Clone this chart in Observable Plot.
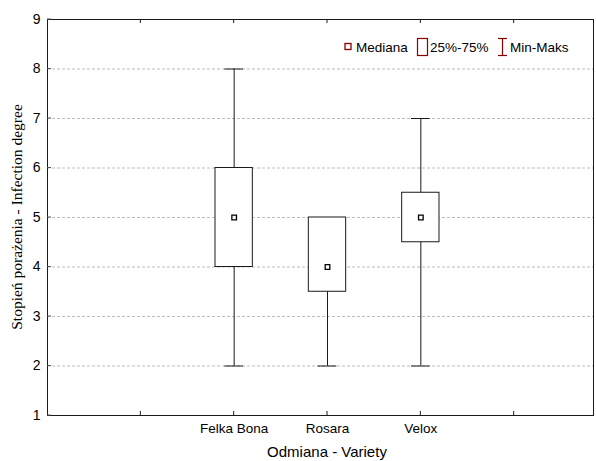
<!DOCTYPE html>
<html>
<head>
<meta charset="utf-8">
<script src="https://cdn.jsdelivr.net/npm/d3@7"></script>
<script src="https://cdn.jsdelivr.net/npm/@observablehq/plot@0.6"></script>
<style>
  html, body { margin: 0; padding: 0; background: #fff; }
  svg { display: block; }
</style>
</head>
<body>
<div id="chart"></div>
<script>
const varieties = ["Felka Bona", "Rosara", "Velox"];
const positions = [2, 3, 4];
const minValues = [2, 2, 2];
const q1Values = [4, 3.5, 4.5];
const medianValues = [5, 4, 5];
const q3Values = [6, 5, 5.5];
const maxValues = [8, 5, 7];
const yTicks = [1, 2, 3, 4, 5, 6, 7, 8, 9];
const gridTicks = [2, 3, 4, 5, 6, 7, 8];
const xTicks = [1, 2, 3, 4, 5];
const xLabel = "Odmiana - Variety";
const yLabel = "Stopień porażenia - Infection degree";
const legendLabels = ["Mediana", "25%-75%", "Min-Maks"];

const data = varieties.map((v, i) => ({
  name: v, pos: positions[i], min: minValues[i], q1: q1Values[i],
  med: medianValues[i], q3: q3Values[i], max: maxValues[i]
}));

const sans = "'Liberation Sans', Arial, sans-serif";
const serif = "'Liberation Serif', 'Times New Roman', serif";
const ink = "#1a1a1a";
const legendColor = "#8b0000";

const chart = Plot.plot({
  width: 596,
  height: 461,
  marginLeft: 47,
  marginRight: 3,
  marginTop: 19,
  marginBottom: 46,
  style: { fontFamily: sans, fontSize: "13.5px", color: "#000", background: "#fff" },
  x: { domain: [0, 5.85] },
  y: { domain: [1, 9] },
  marks: [
    Plot.ruleY(gridTicks, { stroke: "#bdbdbd", strokeDasharray: "3,2" }),
    Plot.ruleX(data, { x: "pos", y1: "min", y2: "max", stroke: ink }),
    Plot.ruleY(data, { y: "max", x1: d => d.pos - 0.1, x2: d => d.pos + 0.1, stroke: ink }),
    Plot.ruleY(data, { y: "min", x1: d => d.pos - 0.1, x2: d => d.pos + 0.1, stroke: ink }),
    Plot.rect(data, { x1: d => d.pos - 0.2, x2: d => d.pos + 0.2, y1: "q1", y2: "q3", fill: "white", stroke: ink }),
    Plot.dot(data, { x: "pos", y: "med", symbol: "square", r: 2.6, fill: "white", stroke: "#000", strokeWidth: 1.3 }),
    Plot.axisY({ ticks: yTicks, tickSize: 0, tickPadding: 7, tickFormat: d => String(d), label: null, fontSize: 14 }),
    Plot.axisX({ ticks: positions, tickSize: 0, tickPadding: 8, tickFormat: d => varieties[positions.indexOf(d)], label: null, fontSize: 13.5 }),
    Plot.frame({ stroke: ink })
  ]
});

document.getElementById("chart").appendChild(chart);

const svg = d3.select(chart);
const xs = chart.scale("x");
const ys = chart.scale("y");
const [xL, xR] = xs.range;
const [yB, yT] = ys.range;

// inward ticks
const g = svg.append("g").attr("stroke", ink).attr("fill", "none");
xTicks.forEach(t => {
  const px = xs.apply(t);
  g.append("line").attr("x1", px).attr("x2", px).attr("y1", yB).attr("y2", yB - 4);
  g.append("line").attr("x1", px).attr("x2", px).attr("y1", yT).attr("y2", yT + 4);
});
yTicks.forEach(t => {
  const py = ys.apply(t);
  g.append("line").attr("x1", xL).attr("x2", xL + 4).attr("y1", py).attr("y2", py).attr("stroke", "#555");
});

// axis titles
svg.append("text")
  .attr("x", xs.apply(3)).attr("y", 457)
  .attr("text-anchor", "middle")
  .attr("font-family", sans).attr("font-size", 15).attr("fill", "#000")
  .text(xLabel);
svg.append("text")
  .attr("transform", `translate(22,${(yB + yT) / 2}) rotate(-90)`)
  .attr("text-anchor", "middle")
  .attr("font-family", serif).attr("font-size", 15.5).attr("fill", "#000")
  .text(yLabel);

// legend
const lg = svg.append("g").attr("font-family", sans).attr("font-size", 13.5).attr("fill", "#000").attr("text-anchor", "start");
const ly = 47;
lg.append("rect").attr("x", 345).attr("y", ly - 3.5).attr("width", 6).attr("height", 6)
  .attr("fill", "white").attr("stroke", legendColor).attr("stroke-width", 1.3);
lg.append("text").attr("x", 356).attr("y", ly + 5).attr("text-anchor", "start").text(legendLabels[0]);
lg.append("rect").attr("x", 417.5).attr("y", 38.5).attr("width", 10).attr("height", 17)
  .attr("fill", "white").attr("stroke", legendColor).attr("stroke-width", 1.2);
lg.append("text").attr("x", 430).attr("y", ly + 5).attr("text-anchor", "start").text(legendLabels[1]);
const ig = lg.append("g").attr("stroke", legendColor).attr("stroke-width", 1.2);
ig.append("line").attr("x1", 502.5).attr("x2", 502.5).attr("y1", 38.5).attr("y2", 55.5);
ig.append("line").attr("x1", 498).attr("x2", 507).attr("y1", 38.5).attr("y2", 38.5);
ig.append("line").attr("x1", 498).attr("x2", 507).attr("y1", 55.5).attr("y2", 55.5);
lg.append("text").attr("x", 510).attr("y", ly + 5).attr("text-anchor", "start").text(legendLabels[2]);
</script>
</body>
</html>
